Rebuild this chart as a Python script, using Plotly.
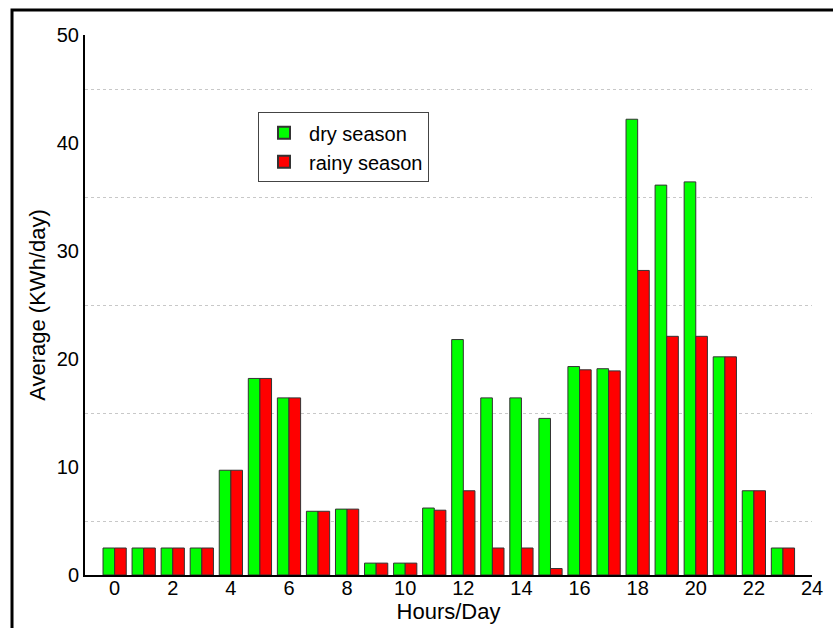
import plotly.graph_objects as go

hours = list(range(24))
dry_season = [2.5, 2.5, 2.5, 2.5, 9.7, 18.2, 16.4, 5.9, 6.1, 1.1, 1.1, 6.2,
              21.8, 16.4, 16.4, 14.5, 19.3, 19.1, 42.2, 36.1, 36.4, 20.2, 7.8, 2.5]
rainy_season = [2.5, 2.5, 2.5, 2.5, 9.7, 18.2, 16.4, 5.9, 6.1, 1.1, 1.1, 6.0,
                7.8, 2.5, 2.5, 0.6, 19.0, 18.9, 28.2, 22.1, 22.1, 20.2, 7.8, 2.5]
x_ticks = list(range(0, 25, 2))
y_ticks = list(range(0, 51, 10))

FONT = "Liberation Sans, Arial, sans-serif"

fig = go.Figure()
fig.add_trace(go.Bar(x=hours, y=dry_season, name="dry season",
                     marker=dict(color="#00FF00", line=dict(color="#333333", width=1))))
fig.add_trace(go.Bar(x=hours, y=rainy_season, name="rainy season",
                     marker=dict(color="#FF0000", line=dict(color="#333333", width=1))))

fig.update_layout(
    width=833, height=628,
    margin=dict(l=85, r=21, t=35, b=53),
    paper_bgcolor="white", plot_bgcolor="white",
    barmode="group", bargap=0.2, bargroupgap=0,
    font=dict(family=FONT, size=20, color="black"),
    showlegend=True,
    legend=dict(x=0.238, y=0.857, xanchor="left", yanchor="top",
                bordercolor="#444444", borderwidth=1, bgcolor="white",
                font=dict(size=20, family=FONT), tracegroupgap=0,
                itemwidth=40, itemsizing="constant"),
    xaxis=dict(range=[-1.02, 24], tickvals=x_ticks, ticktext=[str(v) for v in x_ticks],
               showgrid=False, zeroline=False, showline=True, linecolor="black",
               linewidth=2, ticks="", ticklen=0, tickfont=dict(size=20), automargin=False,
               ticklabelstandoff=-6,
               title=dict(text="Hours/Day", font=dict(size=22), standoff=0)),
    yaxis=dict(range=[0, 50], tickvals=y_ticks, ticktext=[str(v) for v in y_ticks],
               showgrid=False, zeroline=False, showline=True, linecolor="black",
               linewidth=2, ticks="", ticklen=0, tickfont=dict(size=20), ticklabelstandoff=0,
               automargin=False,
               minor=dict(tick0=5, dtick=10, showgrid=True, gridcolor="#c8c8c8",
                          griddash="dot", gridwidth=1),
               title=dict(text="Average (KWh/day)", font=dict(size=22), standoff=5)),
)

fig.add_shape(type="rect", xref="paper", yref="paper",
              x0=-0.1004, x1=1.05, y0=-0.2, y1=1.0463,
              line=dict(color="black", width=3), fillcolor="rgba(0,0,0,0)", layer="above")

fig.write_html("out.html")
